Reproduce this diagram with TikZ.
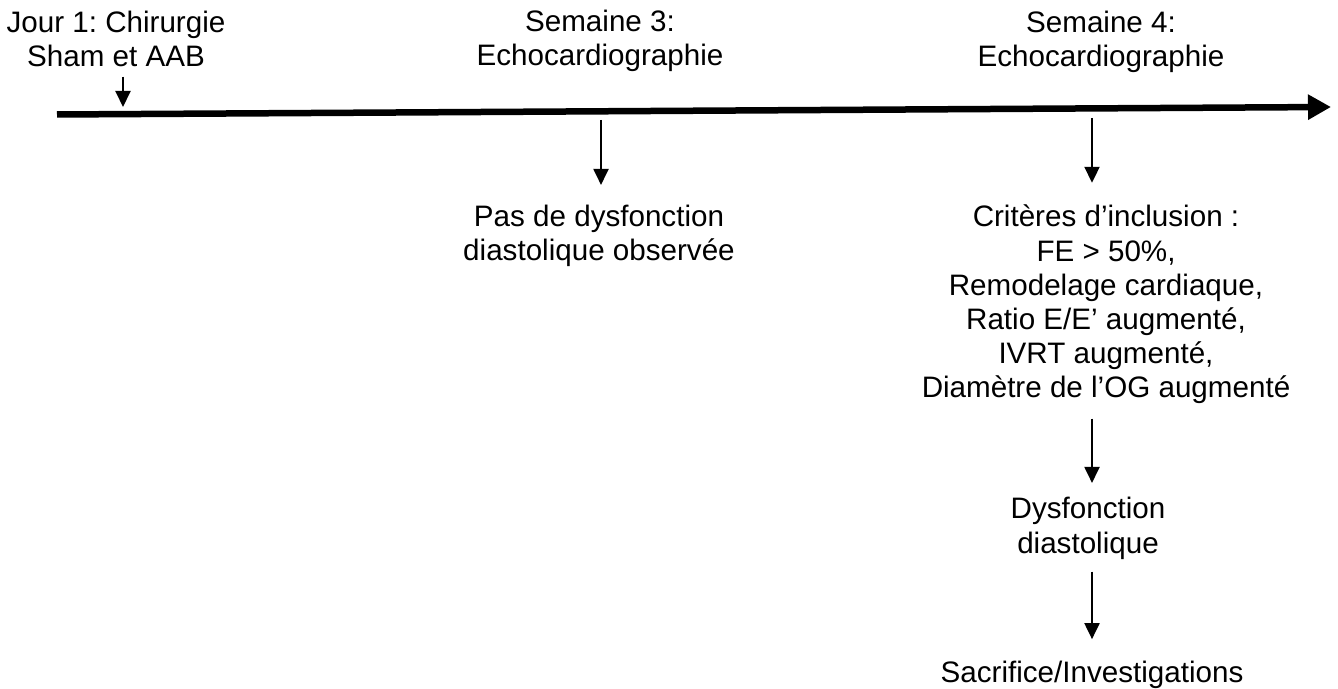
\documentclass[tikz,border=0pt]{standalone}
\usepackage{fontspec}
\setmainfont{Liberation Sans}
\usetikzlibrary{arrows.meta}
\frenchspacing

\begin{document}
\begin{tikzpicture}[x=0.5pt,y=-0.5pt,
  every node/.style={font=\fontsize{14.8}{17.1}\selectfont,align=center,inner sep=0pt,anchor=base},
  pointer/.style={line width=1pt,-{Triangle[length=8pt,width=7.5pt]}},
  timeline/.style={line width=3.25pt,-{Triangle[length=11.5pt,width=12pt]}}]

  \useasboundingbox (0,0) rectangle (1338,689);

  % time axis
  \coordinate (t0) at (57,114.5);
  \coordinate (tend) at (1331,107);
  \draw[timeline] (t0) -- (tend);

  % anchor=base sits on the last line
  \node (jour) at (116,67) {Jour 1: Chirurgie\\Sham et AAB};
  \node (sem3) at (600,66) {Semaine 3:\\Echocardiographie};
  \node (sem4) at (1101,67) {Semaine 4:\\Echocardiographie};

  \node (pas) at (599,261) {Pas de dysfonction\\diastolique observée};
  \node (crit) at (1106,398) {Critères d’inclusion :\\FE > 50\%,\\Remodelage cardiaque,\\Ratio E/E’ augmenté,\\IVRT augmenté,\\Diamètre de l’OG augmenté};
  \node (dysf) at (1088,553) {Dysfonction\\diastolique};
  \node (sacr) at (1092,682) {Sacrifice/Investigations};

  \coordinate (d1) at (123,107);
  \coordinate (w3) at (601,120);
  \coordinate (w4) at (1092,118);

  \draw[pointer,shorten <=4.5pt] (jour.south -| d1) -- (d1);
  \draw[pointer,shorten >=10pt] (w3) -- (w3 |- pas.north);
  \draw[pointer,shorten >=11pt] (w4) -- (w4 |- crit.north);
  \draw[pointer,shorten <=7pt,shorten >=7pt] (w4 |- crit.south) -- (w4 |- dysf.north);
  \draw[pointer,shorten <=6pt,shorten >=10.5pt] (w4 |- dysf.south) -- (w4 |- sacr.north);
\end{tikzpicture}
\end{document}
